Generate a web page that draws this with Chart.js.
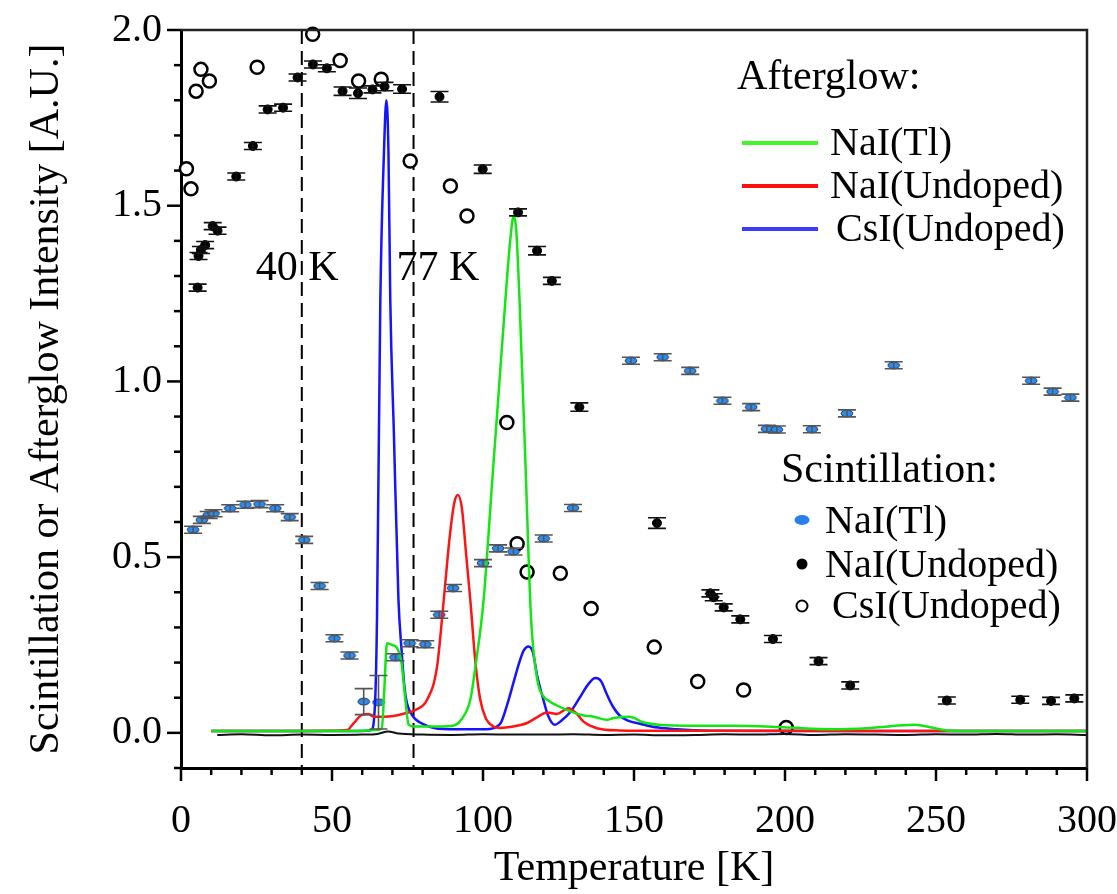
<!DOCTYPE html>
<html>
<head>
<meta charset="utf-8">
<script src="https://cdn.jsdelivr.net/npm/chart.js@4.4.0/dist/chart.umd.min.js"></script>
<style>
body{margin:0;background:#fff}
canvas{display:block}
</style>
</head>
<body>
<canvas id="chart" width="1117" height="894"></canvas>
<script>
const serif = "'Liberation Serif','Times New Roman',serif";

const xTicks = [0, 50, 100, 150, 200, 250, 300];
const yTicks = [0, 0.5, 1.0, 1.5, 2.0];
const markTemps = [40, 77];
const markLabels = ["40 K", "77 K"];

// afterglow curves (temperature, intensity)
const glowTlT = [10,20,30,40,50,60,64,66.5,67.3,68.2,70,71.5,73,74.3,75.4,77,80,85,90,93,95.8,97.5,100.2,103,105,107.4,109,110.1,111,112.1,114,115.9,118,120.1,121.2,124,128.9,133,136.6,141,143.3,148.5,153,158.5,170,183,199.4,216,230,242.6,253.6,260,280,300];
const glowTlV = [.005,.005,.005,.005,.005,.006,.008,.012,.12,.255,.25,.242,.2,.094,.023,.018,.018,.018,.02,.04,.094,.189,.378,.71,.946,1.23,1.4,1.469,1.43,1.23,.78,.327,.15,.103,.094,.08,.061,.05,.046,.037,.042,.046,.03,.023,.02,.02,.016,.01,.015,.023,.007,.005,.005,.005];

const glowNaT = [10,30,50,55,57.2,59.9,62.1,63.8,67,70.4,74,77.6,81.5,84.8,87,89,90.5,91.7,93,94.5,95.8,97.5,99.1,101,103.5,105.7,110,114.6,118,121.2,124.5,128.3,131,133.3,137.7,145,160,200,250,300];
const glowNaV = [.005,.005,.006,.008,.028,.051,.054,.046,.046,.048,.055,.065,.094,.189,.378,.56,.655,.677,.64,.5,.378,.2,.094,.04,.018,.014,.018,.028,.045,.058,.054,.07,.055,.032,.013,.007,.006,.006,.005,.005];

const glowCsT = [10,30,50,60,63,64.3,64.9,66,67.2,68,68.7,69.3,70.5,72,73,74,74.8,76.9,79,81.5,85,95,100,104,106,108,110,112,113.5,115.1,116.5,118,120,121.5,123.7,126,129,132,135,137.2,139,141,143,145.4,148,152,158,164.2,175,200,250,300];
const glowCsV = [.005,.005,.005,.005,.008,.094,.327,1.23,1.65,1.8,1.65,1.23,.85,.38,.24,.13,.085,.046,.03,.02,.012,.01,.01,.015,.03,.08,.14,.2,.235,.246,.23,.16,.094,.05,.023,.035,.06,.1,.14,.156,.148,.11,.075,.048,.035,.026,.015,.01,.006,.005,.005,.005];

const bgT = [12,20,30,40,50,60,65,68.6,72,80,90,100,110,120,130,140,150,160,170,180,190,200,210,220,230,240,250,260,270,280,290,300];
const bgV = [-.006,-.004,-.007,-.005,-.006,-.005,-.003,.004,-.002,-.005,-.006,-.004,-.005,-.005,-.004,-.006,-.005,-.007,-.006,-.004,-.005,-.003,-.006,-.004,-.005,-.006,-.004,-.005,-.003,-.005,-.004,-.006];

// scintillation points
const scTlT = [4.0,6.9,9.2,10.8,16.3,21.3,26.0,31.2,36.0,40.8,45.9,50.8,55.8,60.5,65.4,71.0,75.7,80.9,85.5,90.1,100,105,110.1,120.1,129.8,149,159.5,168.6,179.3,188.8,194.0,197.3,208.9,220.5,236.0,281.5,288.6,294.5];
const scTlV = [0.578,0.606,0.62,0.625,0.639,0.649,0.651,0.639,0.614,0.549,0.418,0.269,0.22,0.089,0.087,0.215,0.255,0.252,0.336,0.412,0.483,0.525,0.516,0.553,0.64,1.059,1.069,1.03,0.945,0.927,0.865,0.863,0.864,0.909,1.046,1.002,0.971,0.954];
const scTlErr = [.006,.006,.006,.006,.006,.006,.006,.006,.006,.006,.006,.006,.006,.037,.076,.006,.006,.006,.006,.006,.006,.008,.008,.006,.006,.006,.006,.006,.006,.006,.006,.006,.006,.006,.006,.006,.006,.006];

const scNaT = [5.5,5.8,6.6,8.0,10.5,12.1,18.3,23.8,28.7,33.8,38.6,43.7,48.3,53.5,58.6,63.4,67.4,73.2,85.6,99.9,111.6,117.9,122.8,131.9,157.6,175.3,176.4,179.7,185.2,196.0,211.1,221.6,253.6,277.9,288.1,295.8];
const scNaV = [1.267,1.357,1.374,1.388,1.442,1.429,1.583,1.67,1.774,1.779,1.865,1.902,1.891,1.826,1.82,1.831,1.839,1.832,1.81,1.604,1.481,1.372,1.286,0.927,0.597,0.397,0.386,0.357,0.323,0.267,0.204,0.135,0.092,0.094,0.091,0.098];
const scNaErr = [.008,.01,.01,.01,.01,.01,.008,.008,.01,.01,.01,.008,.008,.012,.015,.01,.012,.012,.015,.012,.01,.012,.008,.012,.015,.01,.01,.008,.008,.008,.008,.01,.008,.008,.008,.008];

const scCsT = [1.8,3.3,5.0,6.6,9.4,25.2,43.6,52.7,58.8,66.3,75.9,89.2,94.7,107.9,111.3,114.6,125.6,135.8,156.7,171.1,186.3,200.4];
const scCsV = [1.605,1.548,1.826,1.888,1.855,1.894,1.988,1.913,1.855,1.86,1.627,1.556,1.471,0.883,0.538,0.458,0.454,0.354,0.244,0.146,0.122,0.015];

function pts(xs, ys) {
    return xs.map((x, i) => ({x: x, y: ys[i]}));
}

// small blue ellipse marker
const blueDot = document.createElement("canvas");
blueDot.width = 14; blueDot.height = 9;
(function () {
    const c = blueDot.getContext("2d");
    c.fillStyle = "#2a8cf5";
    c.strokeStyle = "#1b2a44";
    c.lineWidth = 1;
    c.beginPath();
    c.ellipse(7, 4.5, 5.8, 3.4, 0, 0, Math.PI * 2);
    c.fill();
    c.stroke();
})();

const decor = {
    id: "decor",
    beforeDatasetsDraw(chart) {
        const {ctx, chartArea: a, scales: {x}} = chart;
        ctx.save();
        ctx.strokeStyle = "#000";
        ctx.lineWidth = 2;
        ctx.setLineDash([14, 7]);
        markTemps.forEach(t => {
            const px = x.getPixelForValue(t);
            ctx.beginPath();
            ctx.moveTo(px, a.top);
            ctx.lineTo(px, a.bottom);
            ctx.stroke();
        });
        ctx.restore();
    },
    afterDatasetsDraw(chart) {
        const {ctx, scales: {x, y}} = chart;
        ctx.save();
        chart.data.datasets.forEach(ds => {
            if (!ds.err) return;
            ctx.strokeStyle = ds.errColor;
            ctx.lineWidth = 1.6;
            ds.data.forEach((p, i) => {
                const px = x.getPixelForValue(p.x);
                const py = y.getPixelForValue(p.y);
                const d = Math.max(y.getPixelForValue(p.y - ds.err[i]) - py, 3.5);
                ctx.beginPath();
                ctx.moveTo(px, py - d); ctx.lineTo(px, py + d);
                ctx.moveTo(px - 9, py - d); ctx.lineTo(px + 9, py - d);
                ctx.moveTo(px - 9, py + d); ctx.lineTo(px + 9, py + d);
                ctx.stroke();
            });
        });
        ctx.restore();
    },
    afterDraw(chart) {
        const {ctx, chartArea: a, scales: {x, y}} = chart;
        ctx.save();
        // frame top/right
        ctx.strokeStyle = "#222";
        ctx.lineWidth = 2.5;
        ctx.beginPath();
        ctx.moveTo(a.left, a.top);
        ctx.lineTo(a.right, a.top);
        ctx.lineTo(a.right, a.bottom);
        ctx.stroke();

        // tick marks
        ctx.strokeStyle = "#000";
        ctx.lineWidth = 2.5;
        for (let v = -1; v <= 20; v++) {
            const py = y.getPixelForValue(v / 10);
            const len = v % 5 === 0 ? 14 : 7;
            ctx.beginPath();
            ctx.moveTo(a.left, py);
            ctx.lineTo(a.left - len, py);
            ctx.stroke();
        }
        for (let t = 0; t <= 300; t += 10) {
            const px = x.getPixelForValue(t);
            const len = t % 50 === 0 ? 13 : 7;
            ctx.beginPath();
            ctx.moveTo(px, a.bottom);
            ctx.lineTo(px, a.bottom + len);
            ctx.stroke();
        }

        // 40 K / 77 K labels
        ctx.fillStyle = "#000";
        ctx.font = "42px " + serif;
        ctx.textBaseline = "alphabetic";
        ctx.textAlign = "left";
        const ly = y.getPixelForValue(1.29);
        ctx.fillText(markLabels[0], x.getPixelForValue(markTemps[0]) - 46, ly);
        ctx.fillText(markLabels[1], x.getPixelForValue(markTemps[1]) - 17, ly);

        // legend: afterglow
        ctx.font = "42px " + serif;
        ctx.fillText("Afterglow:", 737, 89);
        ctx.font = "40px " + serif;
        const glow = [["NaI(Tl)", "#44f52a", 830], ["NaI(Undoped)", "#ff1010", 830], ["CsI(Undoped)", "#3b3bff", 836]];
        glow.forEach((g, i) => {
            const yy = 143 + i * 43;
            ctx.strokeStyle = g[1];
            ctx.lineWidth = 4;
            ctx.beginPath();
            ctx.moveTo(742, yy);
            ctx.lineTo(818, yy);
            ctx.stroke();
            ctx.fillText(g[0], g[2], yy + 12);
        });

        // legend: scintillation
        ctx.font = "42px " + serif;
        ctx.fillText("Scintillation:", 781, 482);
        ctx.font = "40px " + serif;
        ctx.fillStyle = "#2a7ff0";
        ctx.beginPath();
        ctx.ellipse(802, 520, 7.5, 5, 0, 0, Math.PI * 2);
        ctx.fill();
        ctx.fillStyle = "#000";
        ctx.beginPath();
        ctx.arc(802, 564, 5.5, 0, Math.PI * 2);
        ctx.fill();
        ctx.strokeStyle = "#000";
        ctx.lineWidth = 2;
        ctx.beginPath();
        ctx.arc(802, 606, 5.5, 0, Math.PI * 2);
        ctx.stroke();
        ctx.fillText("NaI(Tl)", 825, 533);
        ctx.fillText("NaI(Undoped)", 825, 577);
        ctx.fillText("CsI(Undoped)", 832, 618);
        ctx.restore();
    }
};

const lineStyle = {showLine: true, pointRadius: 0, borderWidth: 2.5, cubicInterpolationMode: "monotone", fill: false};

new Chart(document.getElementById("chart"), {
    type: "scatter",
    data: {
        datasets: [
            Object.assign({label: "Afterglow NaI(Tl)", data: pts(glowTlT, glowTlV), borderColor: "#14e614"}, lineStyle),
            Object.assign({label: "Afterglow NaI(Undoped)", data: pts(glowNaT, glowNaV), borderColor: "#ff1414"}, lineStyle),
            Object.assign({label: "Afterglow CsI(Undoped)", data: pts(glowCsT, glowCsV), borderColor: "#1414ff"}, lineStyle),
            Object.assign({label: "Background", data: pts(bgT, bgV), borderColor: "#111111"}, lineStyle, {borderWidth: 2}),
            {
                label: "Scintillation NaI(Tl)",
                data: pts(scTlT, scTlV),
                err: scTlErr,
                errColor: "#555",
                pointStyle: blueDot,
                pointRadius: 6,
                clip: 10
            },
            {
                label: "Scintillation NaI(Undoped)",
                data: pts(scNaT, scNaV),
                err: scNaErr,
                errColor: "#111",
                pointStyle: "circle",
                pointRadius: 4.5,
                backgroundColor: "#000",
                borderColor: "#000",
                clip: 10
            },
            {
                label: "Scintillation CsI(Undoped)",
                data: pts(scCsT, scCsV),
                pointStyle: "circle",
                pointRadius: 6.5,
                borderWidth: 2.5,
                backgroundColor: "#fff",
                borderColor: "#000",
                clip: 10
            }
        ]
    },
    options: {
        responsive: false,
        animation: false,
        devicePixelRatio: 1,
        layout: {padding: {top: 30, right: 30, left: 0, bottom: 0}},
        plugins: {legend: {display: false}, tooltip: {enabled: false}},
        scales: {
            x: {
                type: "linear",
                min: 0,
                max: 300,
                afterBuildTicks: s => { s.ticks = xTicks.map(v => ({value: v})); },
                afterFit: s => { s.height = 126; s.paddingLeft = 0; s.paddingRight = 0; },
                grid: {display: false, drawTicks: false},
                border: {display: true, color: "#000", width: 3},
                ticks: {color: "#000", padding: 29, maxRotation: 0, font: {family: serif, size: 40}},
                title: {display: true, text: "Temperature [K]", color: "#000", padding: 0, font: {family: serif, size: 42}}
            },
            y: {
                type: "linear",
                min: -0.1,
                max: 2.0,
                afterBuildTicks: s => { s.ticks = yTicks.map(v => ({value: v})); },
                afterFit: s => { s.width = 181; s.paddingTop = 0; s.paddingBottom = 0; },
                grid: {display: false, drawTicks: false},
                border: {display: true, color: "#000", width: 3},
                ticks: {color: "#000", padding: 19, font: {family: serif, size: 40}, callback: v => v.toFixed(1)},
                title: {display: true, text: "Scintillation or Afterglow Intensity [A.U.]", color: "#000", padding: {top: 22}, font: {family: serif, size: 42}}
            }
        }
    },
    plugins: [decor]
});
</script>
</body>
</html>
